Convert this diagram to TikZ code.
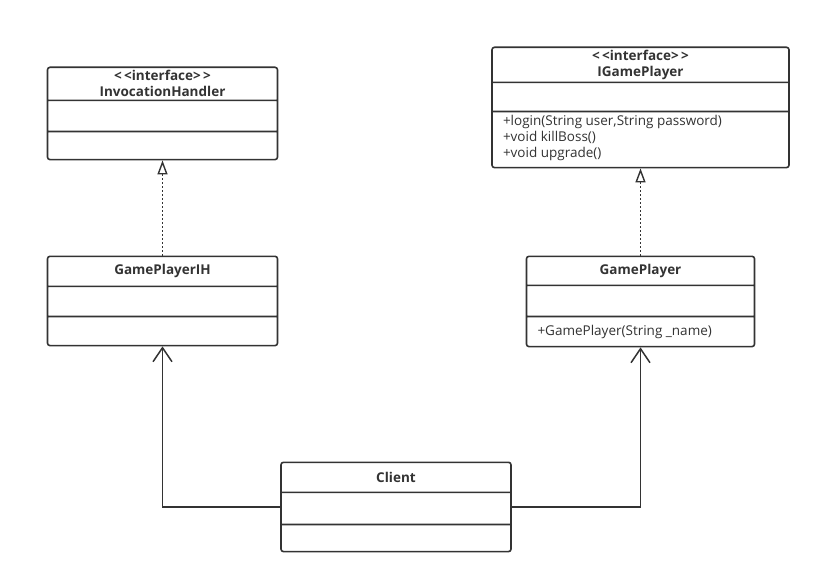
\documentclass[tikz,border=0pt]{standalone}
\usepackage{fontspec}
\setsansfont{Open Sans}
\usepackage{tikz}
\usetikzlibrary{shapes.multipart,arrows.meta}
\definecolor{ink}{HTML}{333333}
\newcommand{\cpart}[3]{\parbox[c][#2pt][c]{#1pt}{#3}}
\tikzset{x=1pt,y=-1pt,every node/.style={font=\sffamily\fontsize{13.5}{16}\selectfont,text=ink},
  cls/.style={draw=ink,line width=1.6pt,rectangle split,rectangle split parts=3,rounded corners=2.5pt,inner sep=0pt,anchor=north},
  realize/.style={draw=ink,line width=1.4pt,dash pattern=on 2pt off 2pt,-{Triangle[open,length=14pt,width=10pt,line width=1.4pt]}},
  assoc/.style={draw=ink,line width=1.5pt,-{Straight Barb[length=14pt,width=19pt,line width=1.5pt]},to path={-| (\tikztotarget)}}}
\newcommand{\meth}{\raggedright\leftskip=11pt}
\newcommand{\iface}{{<}\,{<}interface{>}\,{>}}

\begin{document}
\begin{tikzpicture}
    \useasboundingbox[fill=white] (0,0) rectangle (821,583);
    \node[cls] (1) at (162.5,66.5) {\cpart{230}{31.5}{\centering\bfseries \iface\\InvocationHandler}\nodepart{two}\cpart{230}{29.5}{}\nodepart{three}\cpart{230}{26.5}{}};
    \node[cls] (2) at (640.5,46.5) {\cpart{297}{33.5}{\centering\bfseries \iface\\IGamePlayer}\nodepart{two}\cpart{297}{27.5}{}\nodepart{three}\cpart{297}{54.5}{\meth +login(String user,String password)\\+void killBoss()\\+void upgrade()\vspace{3pt}}};
    \node[cls] (3) at (162.5,255.5) {\cpart{230}{28.5}{\centering\bfseries GamePlayerIH}\nodepart{two}\cpart{230}{28.5}{}\nodepart{three}\cpart{230}{27.5}{}};
    \node[cls] (4) at (640.5,255.5) {\cpart{228}{27.5}{\centering\bfseries GamePlayer}\nodepart{two}\cpart{228}{29.5}{}\nodepart{three}\cpart{228}{28.5}{\meth +GamePlayer(String \_name)}};
    \node[cls] (5) at (396,461.5) {\cpart{230}{28.5}{\centering\bfseries Client}\nodepart{two}\cpart{230}{30.5}{}\nodepart{three}\cpart{230}{25.5}{}};
    \path
    (3) edge [realize] (1)
    (4) edge [realize] (2)
    (5) edge [assoc] (3)
    (5) edge [assoc] (4)
    ;
\end{tikzpicture}
\end{document}
